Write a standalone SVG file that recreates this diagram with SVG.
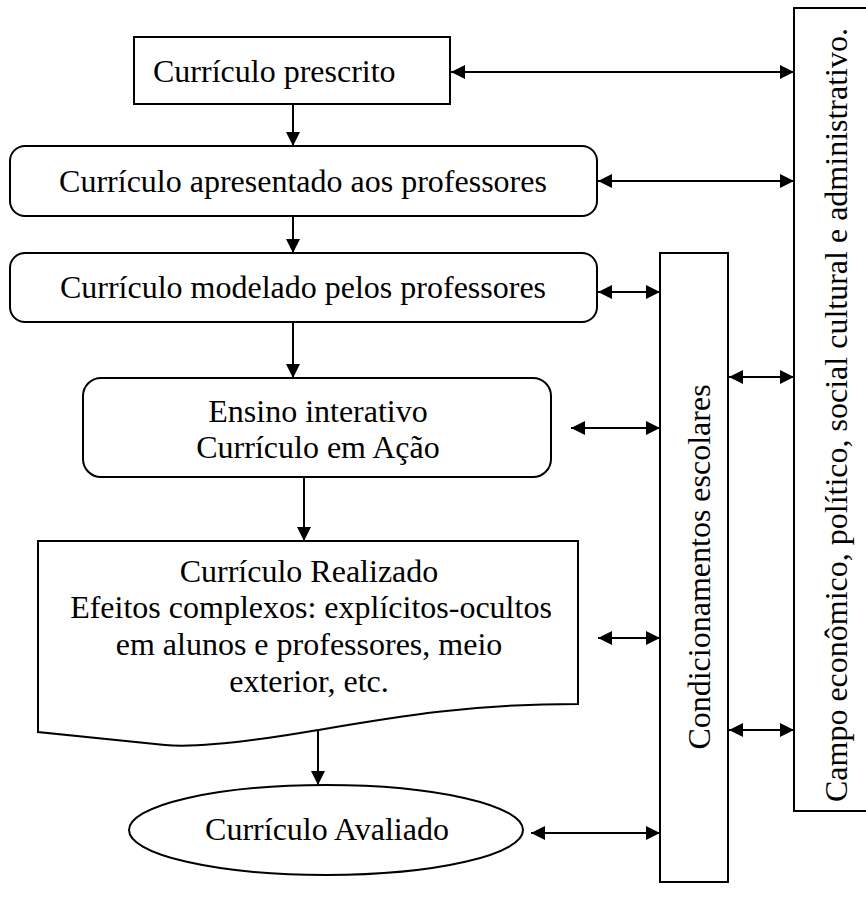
<svg xmlns="http://www.w3.org/2000/svg" width="866" height="904" viewBox="0 0 866 904">
  <style>
    .box { fill: #fff; stroke: #000; stroke-width: 2; }
    .lbl { font-family: "Liberation Serif", "Times New Roman", serif; font-size: 32px; fill: #000; }
    .mid { text-anchor: middle; }
    .link { stroke: #000; stroke-width: 2; fill: none; }
    .one { marker-end: url(#head); }
    .two { marker-start: url(#head); marker-end: url(#head); }
  </style>
  <defs>
    <marker id="head" markerUnits="userSpaceOnUse" markerWidth="15" markerHeight="15" refX="14" refY="7" orient="auto-start-reverse">
      <path d="M0,0 L14,7 L0,14 Z" fill="#000"/>
    </marker>
  </defs>

  <rect width="866" height="904" fill="#fff"/>

  <g id="campo">
    <rect class="box" x="794" y="8" width="80" height="803"/>
    <text class="lbl mid" transform="translate(847,415) rotate(-90)">Campo econômico, político, social cultural e administrativo.</text>
  </g>

  <g id="condicionamentos">
    <rect class="box" x="660" y="253" width="68" height="629"/>
    <text class="lbl mid" transform="translate(710,567) rotate(-90)">Condicionamentos escolares</text>
  </g>

  <g id="prescrito">
    <rect class="box" x="134" y="37" width="316" height="67"/>
    <text class="lbl" x="153" y="82">Currículo prescrito</text>
  </g>

  <g id="apresentado">
    <rect class="box" x="10" y="146" width="587" height="70" rx="15" ry="15"/>
    <text class="lbl mid" x="303" y="192">Currículo apresentado aos professores</text>
  </g>

  <g id="modelado">
    <rect class="box" x="10" y="253" width="587" height="69" rx="15" ry="15"/>
    <text class="lbl mid" x="303" y="298">Currículo modelado pelos professores</text>
  </g>

  <g id="acao">
    <rect class="box" x="83" y="378" width="468" height="99" rx="18" ry="18"/>
    <text class="lbl mid" x="318" y="422">Ensino interativo</text>
    <text class="lbl mid" x="318" y="458">Currículo em Ação</text>
  </g>

  <g id="realizado">
    <path class="box" d="M38,541 H578 V704 C470,704 400,716 318,730 C260,740 200,748 165,745 L38,732 Z"/>
    <text class="lbl mid" x="309" y="582">Currículo Realizado</text>
    <text class="lbl mid" x="311" y="618">Efeitos complexos: explícitos-ocultos</text>
    <text class="lbl mid" x="309" y="655">em alunos e professores, meio</text>
    <text class="lbl mid" x="309" y="692">exterior, etc.</text>
  </g>

  <g id="avaliado">
    <ellipse class="box" cx="326" cy="830" rx="197" ry="45"/>
    <text class="lbl mid" x="327" y="840">Currículo Avaliado</text>
  </g>

  <g id="connectors">
    <!-- main flow -->
    <line class="link one" x1="293" y1="104" x2="293" y2="146"/>
    <line class="link one" x1="293" y1="216" x2="293" y2="253"/>
    <line class="link one" x1="293" y1="322" x2="293" y2="378"/>
    <line class="link one" x1="304" y1="477" x2="304" y2="541"/>
    <line class="link one" x1="318" y1="730" x2="318" y2="785"/>
    <!-- links to the wider context -->
    <line class="link two" x1="451" y1="72" x2="794" y2="72"/>
    <line class="link two" x1="598" y1="181" x2="794" y2="181"/>
    <line class="link two" x1="729" y1="377" x2="794" y2="377"/>
    <line class="link two" x1="729" y1="730" x2="794" y2="730"/>
    <!-- links to school conditions -->
    <line class="link two" x1="598" y1="292" x2="660" y2="292"/>
    <line class="link two" x1="571" y1="428" x2="660" y2="428"/>
    <line class="link two" x1="598" y1="638" x2="660" y2="638"/>
    <line class="link two" x1="531" y1="833" x2="660" y2="833"/>
  </g>
</svg>
